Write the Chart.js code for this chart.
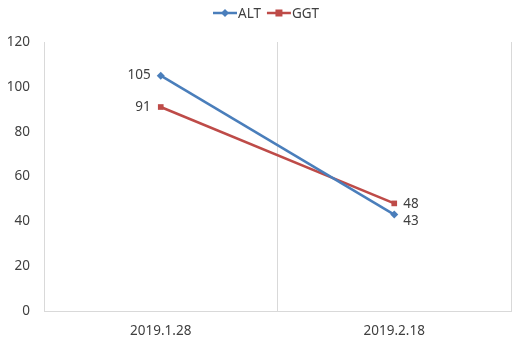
<!DOCTYPE html>
<html>
<head>
<meta charset="utf-8">
<script src="https://cdn.jsdelivr.net/npm/chart.js@4"></script>
<style>
  html, body { margin: 0; padding: 0; background: #fff; }
  #wrap { width: 515px; height: 340px; }
</style>
</head>
<body>
<div id="wrap"><canvas id="chart" width="515" height="340"></canvas></div>
<script>
// values
const dates = ["2019.1.28", "2019.2.18"];
const altValues = [105, 43];
const ggtValues = [91, 48];
const yTicks = [0, 20, 40, 60, 80, 100, 120];

const FONT = "'Noto Sans', 'DejaVu Sans', sans-serif";
const TEXT = "#404040";
const GRID = "#d9d9d9";
const BLUE = "#4a7ebb";
const RED = "#be4b48";

// data labels: left of first point, right of second, like the excel chart
const labelPlugin = {
    id: "valueLabels",
    afterDatasetsDraw(chart) {
        const ctx = chart.ctx;
        ctx.save();
        ctx.font = "13.5px " + FONT;
        ctx.fillStyle = TEXT;
        ctx.textBaseline = "middle";
        chart.data.datasets.forEach((ds, di) => {
            chart.getDatasetMeta(di).data.forEach((pt, i) => {
                const v = ds.data[i];
                if (i === 0) {
                    ctx.textAlign = "right";
                    ctx.fillText(v, pt.x - 10, pt.y);
                } else {
                    ctx.textAlign = "left";
                    const dy = v < 45 ? 7 : 1;
                    ctx.fillText(v, pt.x + 9, pt.y + dy);
                }
            });
        });
        ctx.restore();
    }
};

// legend drawn by hand so the marker sits on the line
const legendPlugin = {
    id: "lineLegend",
    afterDraw(chart) {
        const ctx = chart.ctx;
        ctx.save();
        ctx.font = "13.5px " + FONT;
        ctx.textBaseline = "middle";
        ctx.textAlign = "left";
        const y = 13;
        let x = 213;
        chart.data.datasets.forEach((ds) => {
            ctx.strokeStyle = ds.borderColor;
            ctx.lineWidth = 2.5;
            ctx.beginPath();
            ctx.moveTo(x, y);
            ctx.lineTo(x + 24, y);
            ctx.stroke();
            ctx.fillStyle = ds.borderColor;
            if (ds.pointStyle === "rectRot") {
                ctx.beginPath();
                ctx.moveTo(x + 12, y - 4);
                ctx.lineTo(x + 16, y);
                ctx.lineTo(x + 12, y + 4);
                ctx.lineTo(x + 8, y);
                ctx.closePath();
                ctx.fill();
            } else {
                ctx.fillRect(x + 8.5, y - 3.5, 7, 7);
            }
            ctx.fillStyle = TEXT;
            ctx.fillText(ds.label, x + 25, y + 1);
            x += 25 + ctx.measureText(ds.label).width + 6;
        });
        ctx.restore();
    }
};

new Chart(document.getElementById("chart").getContext("2d"), {
    type: "line",
    data: {
        labels: dates,
        datasets: [
            {
                label: "ALT",
                data: altValues,
                borderColor: BLUE,
                backgroundColor: BLUE,
                borderWidth: 2.5,
                pointStyle: "rectRot",
                pointRadius: 4,
                pointBorderWidth: 0,
                tension: 0
            },
            {
                label: "GGT",
                data: ggtValues,
                borderColor: RED,
                backgroundColor: RED,
                borderWidth: 2.5,
                pointStyle: "rect",
                pointRadius: 4,
                pointBorderWidth: 0,
                tension: 0
            }
        ]
    },
    options: {
        responsive: false,
        animation: false,
        layout: { padding: { top: 42, right: 0, left: 0, bottom: 0 } },
        plugins: {
            legend: { display: false },
            tooltip: { enabled: false }
        },
        scales: {
            x: {
                offset: true,
                grid: { offset: true, color: GRID, drawTicks: false },
                border: { color: GRID },
                ticks: { color: TEXT, font: { family: FONT, size: 13.5 }, padding: 12 },
                afterFit: (s) => { s.height = 29; }
            },
            y: {
                min: 0,
                max: 120,
                afterBuildTicks: (s) => { s.ticks = yTicks.map((v) => ({ value: v })); },
                grid: { display: false, drawTicks: false },
                border: { color: GRID },
                ticks: { color: TEXT, font: { family: FONT, size: 13.5 }, padding: 14 },
                afterFit: (s) => { s.width = 44; }
            }
        }
    },
    plugins: [labelPlugin, legendPlugin]
});
</script>
</body>
</html>
